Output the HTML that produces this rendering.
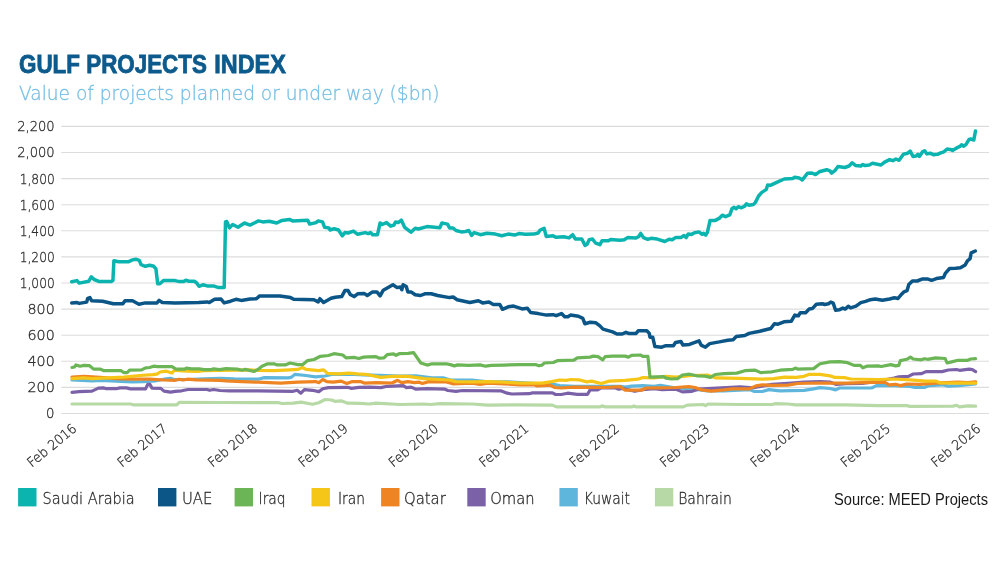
<!DOCTYPE html>
<html><head><meta charset="utf-8"><title>Gulf Projects Index</title>
<style>
html,body{margin:0;padding:0;background:#fff;}
body{width:1000px;height:563px;overflow:hidden;position:relative;}
svg{position:absolute;left:0;top:0;display:block;}
.grid line{stroke:#dcdcdc;stroke-width:1.1;}
.lines path{fill:none;stroke-width:3.2;stroke-linejoin:round;stroke-linecap:round;}
.ylab text{font-family:"DejaVu Sans Light","DejaVu Sans","Liberation Sans",sans-serif;font-weight:200;font-size:13.3px;fill:#2b2b2b;stroke:#2b2b2b;stroke-width:0.3px;}
.xlab text{font-family:"DejaVu Sans Light","DejaVu Sans","Liberation Sans",sans-serif;font-weight:200;font-size:13.3px;fill:#2b2b2b;stroke:#2b2b2b;stroke-width:0.3px;}
.leg text{font-family:"DejaVu Sans Light","DejaVu Sans","Liberation Sans",sans-serif;font-weight:200;font-size:15.5px;fill:#2b2b2b;stroke:#2b2b2b;stroke-width:0.3px;}
.title{font-family:"Liberation Sans",sans-serif;font-weight:bold;font-size:25px;fill:#0d5a8c;stroke:#0d5a8c;stroke-width:0.8px;}
.sub{font-family:"DejaVu Sans Light","DejaVu Sans","Liberation Sans",sans-serif;font-weight:200;font-size:19.6px;fill:#76bee2;stroke:#76bee2;stroke-width:0.3px;}
.src{font-family:"Liberation Sans",sans-serif;font-size:15.8px;fill:#1a1a1a;}
</style></head>
<body>
<svg width="1000" height="563" viewBox="0 0 1000 563">
<rect width="1000" height="563" fill="#ffffff"/>
<text class="title" y="73"><tspan x="19" textLength="61" lengthAdjust="spacingAndGlyphs">GULF</tspan> <tspan x="86.3" textLength="120.5" lengthAdjust="spacingAndGlyphs">PROJECTS</tspan> <tspan x="214.3" textLength="71.5" lengthAdjust="spacingAndGlyphs">INDEX</tspan></text>
<text class="sub" x="19" y="99.8" textLength="420.5" lengthAdjust="spacingAndGlyphs">Value of projects planned or under way ($bn)</text>
<g class="grid">
<line x1="61.3" x2="989" y1="413.5" y2="413.5"/>
<line x1="61.3" x2="989" y1="387.4" y2="387.4"/>
<line x1="61.3" x2="989" y1="361.3" y2="361.3"/>
<line x1="61.3" x2="989" y1="335.2" y2="335.2"/>
<line x1="61.3" x2="989" y1="309.1" y2="309.1"/>
<line x1="61.3" x2="989" y1="283.0" y2="283.0"/>
<line x1="61.3" x2="989" y1="256.9" y2="256.9"/>
<line x1="61.3" x2="989" y1="230.8" y2="230.8"/>
<line x1="61.3" x2="989" y1="204.7" y2="204.7"/>
<line x1="61.3" x2="989" y1="178.6" y2="178.6"/>
<line x1="61.3" x2="989" y1="152.5" y2="152.5"/>
<line x1="61.3" x2="989" y1="126.4" y2="126.4"/>
</g>
<g class="ylab">
<text x="46.0" y="418.4">0</text>
<text x="27.5" y="392.3" textLength="27.2" lengthAdjust="spacingAndGlyphs">200</text>
<text x="27.5" y="366.2" textLength="27.2" lengthAdjust="spacingAndGlyphs">400</text>
<text x="27.5" y="340.1" textLength="27.2" lengthAdjust="spacingAndGlyphs">600</text>
<text x="27.5" y="314.0" textLength="27.2" lengthAdjust="spacingAndGlyphs">800</text>
<text x="19.7" y="287.9" textLength="35.0" lengthAdjust="spacingAndGlyphs">1,000</text>
<text x="19.7" y="261.8" textLength="35.0" lengthAdjust="spacingAndGlyphs">1,200</text>
<text x="19.7" y="235.7" textLength="35.0" lengthAdjust="spacingAndGlyphs">1,400</text>
<text x="19.7" y="209.6" textLength="35.0" lengthAdjust="spacingAndGlyphs">1,600</text>
<text x="19.7" y="183.5" textLength="35.0" lengthAdjust="spacingAndGlyphs">1,800</text>
<text x="17.2" y="157.4" textLength="37.5" lengthAdjust="spacingAndGlyphs">2,000</text>
<text x="17.2" y="131.3" textLength="37.5" lengthAdjust="spacingAndGlyphs">2,200</text>
</g>
<g class="lines">
<path d="M72.0,404.0 L130.4,404.0 L133.6,404.8 L176.8,404.8 L179.2,402.4 L220.0,402.5 L278.8,402.7 L282.0,403.5 L293.2,403.2 L301.2,402.1 L312.4,404.3 L318.8,402.7 L325.2,399.5 L331.6,400.0 L334.8,401.3 L341.2,400.8 L347.6,403.2 L360.0,403.4 L369.6,404.0 L376.0,403.2 L400.0,404.5 L424.0,404.0 L430.4,404.5 L440.0,403.7 L472.0,404.0 L488.0,405.1 L520.0,404.8 L552.4,405.1 L556.4,406.9 L599.6,406.9 L602.0,405.9 L605.2,406.9 L631.6,406.9 L634.0,405.9 L636.4,406.9 L683.2,406.9 L687.2,405.1 L703.2,404.5 L705.6,405.6 L708.0,404.0 L740.0,404.5 L772.0,404.5 L775.2,403.7 L788.0,404.0 L796.0,404.8 L846.0,404.8 L878.0,405.6 L906.8,405.6 L910.0,406.4 L953.2,406.1 L956.4,405.3 L959.6,406.9 L967.6,405.9 L975.6,406.1" style="stroke:#b7d9a6;stroke-width:3.2"/>
<path d="M72.0,380.0 L92.0,380.8 L101.6,380.3 L120.8,381.3 L132.0,381.9 L143.2,381.6 L156.0,380.8 L164.0,379.2 L170.4,378.4 L175.2,379.7 L188.0,379.5 L204.0,378.9 L220.0,378.4 L234.0,378.9 L258.0,379.2 L264.4,377.6 L288.4,377.9 L291.6,377.1 L294.8,374.4 L306.0,375.5 L315.6,376.8 L325.2,376.0 L331.6,374.4 L342.8,374.1 L354.0,374.4 L363.6,374.9 L379.2,375.4 L400.0,376.2 L416.0,375.9 L432.0,377.8 L443.2,377.8 L451.2,380.2 L472.0,380.2 L488.0,381.8 L508.8,381.8 L520.0,382.6 L554.8,384.5 L559.6,385.6 L574.0,386.4 L620.4,386.4 L625.2,387.2 L631.6,386.1 L642.8,385.6 L654.0,386.4 L660.4,385.3 L676.0,388.0 L692.0,388.8 L708.0,390.9 L724.0,390.9 L749.6,389.6 L754.4,391.5 L762.4,391.5 L768.8,389.6 L780.0,390.9 L804.0,390.4 L813.6,388.8 L820.0,387.7 L830.0,388.5 L835.6,389.9 L839.6,388.0 L871.6,388.0 L876.4,385.6 L894.0,385.6 L910.0,386.4 L914.8,387.5 L924.4,387.5 L929.2,385.6 L942.0,384.8 L948.4,386.1 L958.0,385.6 L975.6,384.0" style="stroke:#5fb6dc;stroke-width:3.2"/>
<path d="M72.0,392.4 L79.2,391.6 L92.0,391.1 L98.4,388.1 L103.2,387.9 L106.4,388.7 L116.0,388.7 L120.0,387.9 L126.4,387.9 L130.4,388.9 L145.6,388.9 L147.7,384.4 L149.9,384.4 L152.0,388.1 L160.8,388.4 L164.0,391.1 L170.4,392.1 L175.2,391.3 L181.6,390.8 L188.0,389.5 L207.2,389.5 L209.6,390.3 L213.6,389.5 L220.0,390.5 L229.2,390.8 L258.0,390.8 L293.2,391.3 L297.2,390.3 L300.9,393.2 L304.4,389.7 L312.4,390.3 L318.8,391.6 L322.8,388.7 L328.4,387.6 L347.6,387.3 L351.6,388.4 L358.8,387.3 L370.0,387.1 L380.8,387.6 L387.2,386.3 L403.2,385.7 L406.4,387.6 L411.2,387.1 L416.0,389.2 L427.2,388.7 L444.8,389.2 L448.0,390.5 L456.0,391.3 L462.4,390.5 L500.8,390.8 L507.2,393.2 L512.0,394.0 L529.2,393.7 L532.4,392.9 L552.4,392.9 L555.6,394.5 L561.2,394.5 L567.6,393.2 L577.2,394.3 L587.6,394.3 L590.0,390.0 L597.2,390.0 L601.2,387.9 L615.6,387.9 L618.8,389.2 L622.0,388.4 L634.8,391.3 L642.8,389.7 L654.0,388.7 L662.0,389.7 L676.0,389.2 L682.4,391.9 L692.0,391.3 L698.4,389.2 L712.8,388.4 L740.0,386.8 L749.6,387.6 L756.0,387.3 L772.0,384.4 L788.0,383.3 L804.0,382.0 L820.0,381.7 L830.0,382.0 L836.4,384.4 L846.0,383.6 L862.0,383.3 L878.0,381.2 L894.0,378.0 L898.8,376.9 L908.4,376.4 L913.2,374.0 L921.2,373.7 L926.0,371.6 L942.0,371.6 L948.4,370.0 L956.4,369.5 L959.6,370.3 L969.2,369.2 L972.4,369.7 L975.6,371.6" style="stroke:#7b62a8;stroke-width:3.2"/>
<path d="M72.0,377.1 L84.0,376.3 L100.0,377.4 L116.0,378.7 L132.0,379.2 L149.6,379.2 L164.0,380.0 L175.2,380.3 L179.2,379.2 L183.2,380.0 L187.2,379.2 L196.0,379.8 L220.0,380.3 L226.0,380.8 L242.0,381.6 L258.0,382.2 L280.4,383.2 L298.0,382.2 L315.6,381.6 L318.8,382.7 L322.8,379.5 L326.8,381.6 L333.2,382.2 L341.2,381.1 L346.8,383.5 L352.4,381.6 L360.4,381.6 L364.8,383.2 L376.0,382.7 L392.0,383.0 L397.6,380.3 L401.6,382.7 L408.0,381.6 L414.4,382.7 L419.2,382.2 L422.4,383.5 L428.8,381.6 L446.4,381.9 L452.8,383.8 L472.0,383.2 L480.0,384.3 L488.0,383.2 L504.0,383.8 L520.0,384.8 L534.0,384.8 L537.2,385.9 L550.0,385.1 L554.8,387.5 L561.2,388.0 L574.0,387.2 L606.0,387.5 L620.4,386.7 L625.2,390.2 L641.2,390.2 L646.0,388.0 L660.0,387.8 L676.0,387.5 L688.8,386.7 L695.2,387.5 L701.6,389.9 L711.2,391.2 L724.0,389.9 L732.0,388.8 L749.6,388.8 L756.0,385.9 L762.4,384.8 L772.0,385.4 L788.0,385.1 L797.6,383.5 L820.0,383.0 L846.0,383.2 L862.0,382.7 L884.4,382.2 L889.2,384.8 L895.6,384.3 L900.4,385.6 L906.8,384.0 L919.6,384.3 L935.6,383.2 L958.0,382.2 L967.6,382.7 L975.6,381.9" style="stroke:#ee8522;stroke-width:3.2"/>
<path d="M72.0,378.7 L84.0,377.9 L92.0,378.7 L108.0,377.9 L124.0,377.1 L140.0,375.5 L152.8,374.7 L156.8,374.2 L160.0,372.0 L166.4,371.2 L172.0,373.1 L174.4,370.2 L178.4,370.7 L188.0,371.2 L197.6,371.5 L204.0,370.7 L220.0,370.4 L250.0,369.9 L258.0,370.4 L274.0,370.7 L290.0,369.9 L298.0,369.4 L302.5,367.5 L306.0,369.4 L318.8,370.7 L323.6,369.9 L327.6,373.4 L338.0,373.9 L349.2,373.1 L357.2,373.9 L368.0,374.7 L380.8,377.4 L392.0,376.3 L408.0,376.3 L424.0,378.7 L440.0,379.5 L449.6,380.0 L456.0,381.6 L472.0,381.9 L488.0,381.6 L504.0,382.2 L520.0,383.2 L542.0,383.2 L551.6,381.6 L559.6,380.0 L566.0,380.3 L570.8,379.5 L578.8,379.8 L586.8,381.9 L591.6,381.1 L601.2,383.5 L609.2,381.1 L625.2,380.3 L638.0,379.2 L642.8,377.6 L654.0,377.9 L666.0,376.3 L676.0,377.1 L692.0,375.5 L708.0,375.2 L716.0,377.9 L740.0,378.4 L762.4,379.2 L773.6,378.7 L784.8,377.1 L796.0,377.4 L804.0,376.3 L808.8,374.4 L820.0,374.4 L830.0,375.8 L834.8,377.4 L844.4,377.6 L850.8,379.0 L878.0,379.5 L894.0,379.0 L910.0,379.8 L926.0,381.1 L935.6,381.1 L940.4,383.0 L958.0,383.2 L975.6,383.2" style="stroke:#f5c518;stroke-width:3.2"/>
<path d="M72.0,367.5 L74.4,367.0 L76.0,364.9 L80.0,366.2 L84.0,365.4 L89.6,365.7 L93.6,369.1 L100.0,369.1 L104.0,370.7 L120.8,370.7 L124.0,372.6 L127.2,372.6 L129.6,370.2 L141.6,369.9 L145.6,367.8 L149.6,367.5 L153.6,366.2 L157.6,366.7 L172.0,366.7 L176.0,369.1 L184.8,369.1 L186.4,368.1 L191.2,368.9 L199.2,368.9 L204.0,369.7 L210.4,369.7 L213.6,368.9 L219.6,369.7 L226.0,368.6 L237.2,369.1 L242.0,370.2 L245.2,369.4 L254.0,371.5 L258.0,369.4 L262.0,366.2 L267.6,363.8 L274.0,363.8 L277.2,364.9 L285.2,364.9 L290.0,363.0 L298.0,364.6 L302.8,364.6 L307.6,360.6 L314.0,359.5 L320.4,356.3 L328.4,355.5 L334.0,353.7 L342.8,355.0 L346.0,357.9 L354.0,357.4 L358.8,358.5 L363.6,357.1 L368.0,356.9 L376.0,356.6 L379.2,358.2 L384.0,357.9 L387.2,354.7 L393.6,353.9 L396.0,355.3 L399.2,353.7 L408.0,353.4 L413.6,352.6 L420.8,363.0 L427.2,365.1 L432.0,363.8 L446.4,363.8 L451.2,364.9 L454.4,365.9 L457.6,364.9 L468.8,365.4 L480.0,364.9 L485.6,366.2 L491.2,365.4 L504.0,365.1 L519.6,364.6 L535.6,364.6 L538.8,365.7 L542.0,365.1 L544.4,363.0 L553.2,362.5 L558.0,360.6 L574.0,360.1 L577.2,357.9 L590.0,357.1 L593.2,356.1 L598.0,356.6 L602.8,359.8 L605.2,356.6 L612.4,356.1 L625.2,356.1 L628.4,357.1 L631.6,355.3 L640.4,355.0 L642.8,356.3 L647.9,356.3 L650.0,377.1 L663.6,376.6 L666.0,378.2 L671.2,379.0 L677.6,378.7 L682.4,375.0 L689.6,374.2 L696.8,375.8 L704.8,376.1 L710.4,377.4 L715.2,374.5 L724.0,373.7 L736.8,373.1 L744.8,370.7 L755.2,370.2 L760.8,372.6 L772.0,371.8 L780.0,370.2 L792.8,369.4 L795.2,368.1 L797.6,369.1 L813.6,368.6 L820.0,363.8 L830.0,361.9 L839.6,361.7 L847.6,362.7 L854.0,365.4 L860.4,365.4 L862.8,367.8 L866.8,366.2 L878.0,365.9 L881.2,366.5 L890.8,364.6 L895.6,365.9 L898.8,365.4 L900.4,360.6 L906.8,359.3 L910.5,357.1 L913.2,359.0 L921.2,359.8 L924.4,358.7 L927.6,359.3 L935.6,357.9 L945.2,358.5 L947.1,363.0 L951.6,361.9 L958.0,360.3 L967.6,360.3 L970.8,359.0 L975.6,358.7" style="stroke:#6cb557;stroke-width:3.2"/>
<path d="M71.7,302.9 L77.0,302.5 L79.2,303.4 L86.7,302.1 L87.7,298.3 L89.9,297.6 L91.6,300.8 L102.6,301.2 L113.3,303.8 L122.9,303.8 L125.0,300.8 L132.5,300.8 L138.9,304.2 L145.3,302.9 L157.0,302.9 L159.1,300.4 L162.3,302.5 L175.1,302.9 L198.6,302.5 L207.1,301.9 L209.3,302.5 L214.6,299.3 L221.0,299.1 L224.2,302.9 L230.6,301.2 L235.9,299.3 L241.2,300.4 L250.0,299.1 L256.4,298.7 L259.6,295.9 L279.9,295.9 L290.5,297.6 L293.7,299.3 L314.0,299.7 L318.2,301.9 L319.9,298.7 L323.6,302.5 L331.0,298.3 L335.3,297.2 L341.7,296.6 L344.9,290.6 L348.1,290.6 L350.2,294.4 L354.1,296.6 L357.7,293.8 L364.1,293.4 L367.3,295.5 L372.6,291.9 L376.9,291.9 L380.1,295.9 L383.3,290.2 L392.9,284.8 L397.1,287.6 L400.3,287.0 L401.8,289.7 L403.1,284.8 L406.3,286.5 L407.8,291.9 L411.0,291.9 L415.2,294.8 L420.6,295.5 L424.8,293.8 L431.2,293.8 L437.6,295.5 L449.6,297.6 L453.2,297.0 L457.1,299.7 L469.9,302.5 L478.4,300.8 L482.6,302.9 L489.0,301.9 L493.3,304.4 L499.7,304.4 L502.5,309.3 L508.2,306.8 L513.6,306.1 L522.1,308.9 L527.4,308.3 L530.6,312.5 L538.1,313.6 L546.6,315.1 L553.0,314.7 L556.2,315.7 L561.5,313.6 L564.7,316.8 L567.9,316.8 L570.5,315.1 L578.5,316.3 L582.8,318.4 L584.9,323.8 L590.3,322.3 L595.6,322.7 L599.9,325.9 L603.0,329.1 L612.6,331.9 L616.9,334.0 L622.2,334.0 L625.9,332.3 L628.6,333.4 L636.1,333.4 L638.2,330.8 L646.8,330.8 L649.3,333.4 L650.0,337.2 L652.7,337.2 L654.9,346.6 L661.7,347.2 L665.9,345.7 L673.4,345.7 L675.5,342.5 L680.9,341.5 L683.0,345.1 L689.4,344.4 L699.0,340.8 L701.1,345.1 L705.4,347.2 L709.7,343.6 L719.3,341.9 L727.8,340.2 L733.1,339.7 L736.3,336.5 L744.8,335.5 L749.1,333.4 L759.8,331.2 L763.6,330.2 L770.8,328.5 L774.4,323.7 L778.0,324.2 L784.0,321.8 L791.2,321.3 L794.8,315.1 L798.4,315.8 L800.3,312.7 L805.6,312.7 L809.2,309.1 L812.3,308.6 L816.4,304.3 L822.4,303.8 L824.8,304.5 L828.4,303.8 L830.8,302.1 L833.2,303.1 L835.6,310.3 L839.2,309.8 L842.8,308.1 L845.2,309.1 L848.3,306.2 L850.7,307.9 L856.0,306.2 L860.8,302.6 L865.6,301.4 L870.4,299.7 L875.2,299.0 L882.4,300.2 L889.6,299.0 L894.4,297.8 L898.0,298.5 L901.6,294.2 L904.0,291.8 L907.1,290.6 L908.8,284.6 L912.4,281.0 L917.2,281.0 L922.0,279.1 L928.0,279.1 L931.6,280.3 L936.4,278.6 L943.6,277.4 L945.3,273.3 L949.6,268.5 L955.6,268.3 L960.4,267.8 L965.2,264.9 L967.6,260.6 L970.0,258.9 L971.2,252.9 L975.3,251.0" style="stroke:#0b5587;stroke-width:3.5"/>
<path d="M71.7,281.8 L77.0,280.6 L79.2,283.1 L88.8,281.2 L91.3,276.9 L94.1,279.5 L99.4,281.6 L111.2,281.6 L112.9,280.6 L113.9,260.7 L118.6,261.8 L128.2,261.8 L132.5,259.9 L135.7,259.2 L139.3,260.3 L141.0,264.6 L145.3,266.3 L149.6,265.2 L153.8,266.3 L155.9,268.8 L157.7,283.8 L159.8,283.8 L163.4,280.6 L175.1,280.6 L179.4,281.6 L183.7,281.6 L185.8,280.3 L189.0,281.2 L194.3,281.2 L196.5,282.7 L199.0,286.3 L202.9,284.8 L207.1,285.9 L213.5,285.9 L217.8,287.4 L224.2,287.4 L225.5,221.9 L226.7,221.5 L229.5,227.9 L232.7,224.5 L238.0,227.3 L244.4,223.0 L250.0,225.1 L254.3,223.0 L258.5,220.9 L262.8,221.9 L269.2,221.3 L276.7,223.0 L282.0,220.4 L289.4,219.4 L292.6,220.9 L307.6,220.2 L309.7,224.1 L316.1,222.6 L318.2,220.9 L322.5,221.9 L324.6,227.3 L328.9,227.9 L330.0,230.0 L334.2,228.7 L338.5,230.0 L342.3,235.8 L344.9,232.6 L348.1,233.0 L353.4,231.1 L357.7,234.3 L365.1,232.6 L368.3,233.6 L370.5,232.6 L372.6,234.7 L377.5,234.7 L380.1,223.0 L382.2,224.5 L386.5,222.6 L390.7,226.2 L393.9,225.1 L395.6,221.9 L398.2,222.6 L401.4,220.2 L404.6,227.3 L411.0,232.2 L415.2,228.3 L418.4,229.0 L427.0,226.6 L439.8,227.7 L441.9,223.0 L444.0,223.4 L447.5,224.1 L449.6,227.9 L452.8,227.9 L456.0,230.5 L461.3,231.9 L465.6,231.5 L468.8,230.5 L471.6,235.4 L474.1,232.6 L480.5,234.7 L486.9,233.2 L495.4,234.1 L501.8,235.8 L508.2,234.1 L514.6,235.1 L518.9,233.6 L525.3,234.3 L533.8,234.1 L538.1,233.0 L540.2,230.0 L544.1,228.3 L546.2,236.4 L553.0,235.8 L556.2,237.3 L563.7,236.8 L569.0,237.9 L572.6,234.7 L575.4,239.0 L581.8,239.0 L585.0,245.4 L587.1,244.3 L589.3,239.6 L592.5,239.0 L595.7,243.2 L599.9,244.7 L602.0,240.7 L608.4,240.7 L610.6,239.4 L620.0,240.2 L624.3,239.7 L627.5,237.6 L636.0,238.0 L638.8,236.5 L640.7,233.4 L643.5,237.6 L647.7,239.3 L650.9,238.3 L657.3,239.1 L664.8,241.5 L669.0,239.3 L672.2,239.7 L675.4,237.6 L680.8,237.6 L684.0,235.5 L686.1,237.6 L688.2,234.0 L691.4,234.4 L694.6,232.7 L698.9,231.9 L702.1,234.4 L703.6,233.4 L705.7,235.1 L707.4,232.3 L710.0,220.6 L714.9,220.6 L719.1,218.4 L722.3,215.2 L725.5,216.7 L729.8,214.8 L731.9,208.8 L734.1,207.3 L736.2,208.8 L738.3,206.7 L741.5,207.8 L744.7,206.1 L746.4,203.9 L749.0,205.2 L753.3,204.6 L755.4,202.4 L758.6,196.0 L761.8,192.4 L766.1,189.6 L767.8,184.9 L770.3,185.4 L777.8,181.8 L784.2,179.0 L792.7,178.6 L794.8,177.3 L799.1,177.9 L802.3,180.0 L807.6,173.2 L811.9,173.0 L815.5,174.6 L819.2,171.8 L826.7,169.7 L829.9,170.9 L831.6,173.1 L835.2,170.3 L838.0,166.5 L844.8,167.5 L849.0,166.0 L852.2,162.8 L855.4,165.4 L860.8,166.0 L862.9,164.5 L865.0,165.6 L869.3,165.0 L872.5,163.3 L881.0,165.0 L884.2,162.4 L889.6,159.6 L892.8,160.7 L895.9,159.0 L899.1,160.3 L903.4,154.3 L907.7,153.2 L910.2,151.1 L913.0,156.4 L916.2,156.0 L917.9,154.3 L919.4,156.4 L922.6,151.8 L924.7,150.7 L926.9,153.9 L930.1,153.2 L933.3,154.7 L937.5,154.3 L940.7,152.8 L943.9,151.8 L947.1,149.0 L950.3,149.4 L952.5,150.5 L956.7,147.9 L959.9,146.4 L961.6,144.7 L963.8,146.2 L965.9,144.7 L969.1,139.4 L970.6,139.0 L973.8,140.0 L975.5,130.9" style="stroke:#0cb4b0;stroke-width:3.5"/>
</g>
<g class="xlab">
<text transform="translate(31.7,467.8) rotate(-39.5)" textLength="59.5" lengthAdjust="spacingAndGlyphs">Feb 2016</text>
<text transform="translate(122.1,467.8) rotate(-39.5)" textLength="59.5" lengthAdjust="spacingAndGlyphs">Feb 2017</text>
<text transform="translate(212.5,467.8) rotate(-39.5)" textLength="59.5" lengthAdjust="spacingAndGlyphs">Feb 2018</text>
<text transform="translate(302.9,467.8) rotate(-39.5)" textLength="59.5" lengthAdjust="spacingAndGlyphs">Feb 2019</text>
<text transform="translate(393.3,467.8) rotate(-39.5)" textLength="59.5" lengthAdjust="spacingAndGlyphs">Feb 2020</text>
<text transform="translate(483.7,467.8) rotate(-39.5)" textLength="59.5" lengthAdjust="spacingAndGlyphs">Feb 2021</text>
<text transform="translate(574.1,467.8) rotate(-39.5)" textLength="59.5" lengthAdjust="spacingAndGlyphs">Feb 2022</text>
<text transform="translate(664.5,467.8) rotate(-39.5)" textLength="59.5" lengthAdjust="spacingAndGlyphs">Feb 2023</text>
<text transform="translate(754.9,467.8) rotate(-39.5)" textLength="59.5" lengthAdjust="spacingAndGlyphs">Feb 2024</text>
<text transform="translate(845.3,467.8) rotate(-39.5)" textLength="59.5" lengthAdjust="spacingAndGlyphs">Feb 2025</text>
<text transform="translate(935.7,467.8) rotate(-39.5)" textLength="59.5" lengthAdjust="spacingAndGlyphs">Feb 2026</text>
</g>
<g class="leg">
<rect x="18.1" y="488" width="18.4" height="18.4" fill="#0cb4b0"/><text x="42.6" y="503.9" textLength="92.1" lengthAdjust="spacingAndGlyphs">Saudi Arabia</text>
<rect x="158" y="488" width="18.4" height="18.4" fill="#0b5587"/><text x="182" y="503.9" textLength="30.4" lengthAdjust="spacingAndGlyphs">UAE</text>
<rect x="234.6" y="488" width="18.4" height="18.4" fill="#6cb557"/><text x="258.6" y="503.9" textLength="27.0" lengthAdjust="spacingAndGlyphs">Iraq</text>
<rect x="311.5" y="488" width="18.4" height="18.4" fill="#f5c518"/><text x="338" y="503.9" textLength="27.0" lengthAdjust="spacingAndGlyphs">Iran</text>
<rect x="381.1" y="488" width="18.4" height="18.4" fill="#ee8522"/><text x="404" y="503.9" textLength="41.8" lengthAdjust="spacingAndGlyphs">Qatar</text>
<rect x="467.3" y="488" width="18.4" height="18.4" fill="#7b62a8"/><text x="490.2" y="503.9" textLength="44.4" lengthAdjust="spacingAndGlyphs">Oman</text>
<rect x="559.4" y="488" width="18.4" height="18.4" fill="#5fb6dc"/><text x="583.8" y="503.9" textLength="46.2" lengthAdjust="spacingAndGlyphs">Kuwait</text>
<rect x="654.9" y="488" width="18.4" height="18.4" fill="#b7d9a6"/><text x="678.2" y="503.9" textLength="53.6" lengthAdjust="spacingAndGlyphs">Bahrain</text>
</g>
<text class="src" x="834" y="504.5" textLength="154" lengthAdjust="spacingAndGlyphs">Source: MEED Projects</text>
</svg>
</body></html>
